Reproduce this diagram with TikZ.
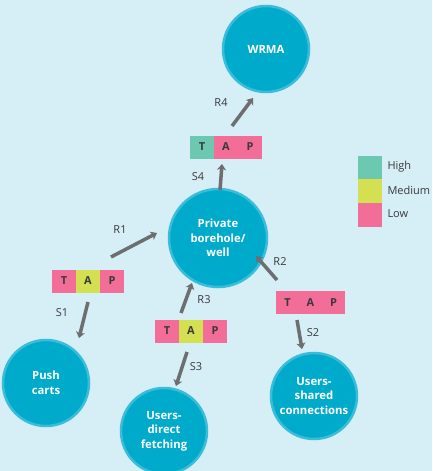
\documentclass[tikz,border=0pt]{standalone}
\usepackage{fontspec}
\setmainfont{Open Sans}
\usetikzlibrary{arrows.meta,positioning}
\definecolor{bg}{HTML}{D6EEF6}
\definecolor{circfill}{HTML}{00AACB}
\definecolor{circring}{HTML}{3ABDD9}
\definecolor{teal}{HTML}{6DC8B1}
\definecolor{yel}{HTML}{D4E052}
\definecolor{pink}{HTML}{F26D98}
\definecolor{arr}{HTML}{6D6E70}
\definecolor{txt}{HTML}{3A3A3A}
\tikzset{
  hub/.style={circle, fill=circfill, draw=circring, line width=2.5pt, minimum size=86pt, inner sep=0pt,
    align=center, text=white, font=\fontsize{11.3}{14.5}\selectfont\bfseries},
  bighub/.style={hub, minimum size=98pt},
  cell/.style={minimum width=24pt, minimum height=23pt, inner sep=0pt, outer sep=0pt,
    font=\fontsize{11}{12}\selectfont\bfseries, text=txt},
  flow/.style={draw=arr, line width=3.5pt, -{Stealth[length=6pt,width=9pt,inset=1.5pt]}},
  lab/.style={font=\fontsize{11}{12}\selectfont, text=txt},
  key/.style={minimum width=24pt, minimum height=24pt, inner sep=0pt, outer sep=0pt},
  keylab/.style={font=\fontsize{11}{12}\selectfont, text=txt, anchor=west}
}
\begin{document}
\begin{tikzpicture}[x=1pt,y=-1pt]
\fill[bg] (0,0) rectangle (432,471);
\useasboundingbox (0,0) rectangle (432,471);

% circles
\node[hub] (wrma) at (266,49) {WRMA};
\node[bighub] (well) at (218,238) {Private\\borehole/\\well};
\node[hub] (push) at (46,383) {Push\\carts};
\node[hub] (direct) at (164,431) {Users-\\direct\\fetching};
\node[hub] (shared) at (314,396) {Users-\\shared\\connections};

% TAP boxes
\node[cell, fill=teal] (t4) at (202,147) {T};
\node[cell, fill=pink, right=0pt of t4] (a4) {A};
\node[cell, fill=pink, right=0pt of a4] (p4) {P};

\node[cell, fill=pink] (t1) at (64,281) {T};
\node[cell, fill=yel, right=0pt of t1] (a1) {A};
\node[cell, fill=pink, right=0pt of a1] (p1) {P};

\node[cell, fill=pink] (t3) at (167,331) {T};
\node[cell, fill=yel, right=0pt of t3] (a3) {A};
\node[cell, fill=pink, right=0pt of a3] (p3) {P};

\node[cell, fill=pink, minimum width=23pt] (t2) at (287.5,302.5) {T};
\node[cell, fill=pink, minimum width=23pt, right=0pt of t2] (a2) {A};
\node[cell, fill=pink, minimum width=23pt, right=0pt of a2] (p2) {P};

% arrow ends
\coordinate (r4s) at (232,126);
\coordinate (r4e) at (253,98);
\coordinate (s4s) at (220,190);
\coordinate (s4e) at (222,164);
\coordinate (r1s) at (111,257);
\coordinate (r1e) at (157,233);
\coordinate (s1s) at (88,302);
\coordinate (s1e) at (79,338);
\coordinate (r3s) at (181,313);
\coordinate (r3e) at (192,283);
\coordinate (r2s) at (277,280);
\coordinate (r2e) at (256,256);
\coordinate (s2s) at (297,320);
\coordinate (s2e) at (302,349);
\coordinate (s3s) at (187,352);
\coordinate (s3e) at (176,386);

\draw[flow] (r4s) -- (r4e);
\draw[flow] (s4s) -- (s4e);
\draw[flow] (r1s) -- (r1e);
\draw[flow] (s1s) -- (s1e);
\draw[flow] (r3s) -- (r3e);
\draw[flow] (r2s) -- (r2e);
\draw[flow] (s2s) -- (s2e);
\draw[flow] (s3s) -- (s3e);

% labels
\node[lab] (lr4) at (221,103) {R4};
\node[lab] (ls4) at (198,177) {S4};
\node[lab] (lr1) at (120,230) {R1};
\node[lab] (ls1) at (62,313) {S1};
\node[lab] (lr3) at (204,300) {R3};
\node[lab] (lr2) at (280,262) {R2};
\node[lab] (ls2) at (313,333) {S2};
\node[lab] (ls3) at (196,367) {S3};

% legend
\node[key, fill=teal] (kh) at (370,168) {};
\node[key, fill=yel] (km) at (370,191) {};
\node[key, fill=pink] (kl) at (370,215) {};
\node[keylab] (khl) at (384,167) {High};
\node[keylab] (kml) at (384,190) {Medium};
\node[keylab] (kll) at (384,214) {Low};
\end{tikzpicture}
\end{document}
